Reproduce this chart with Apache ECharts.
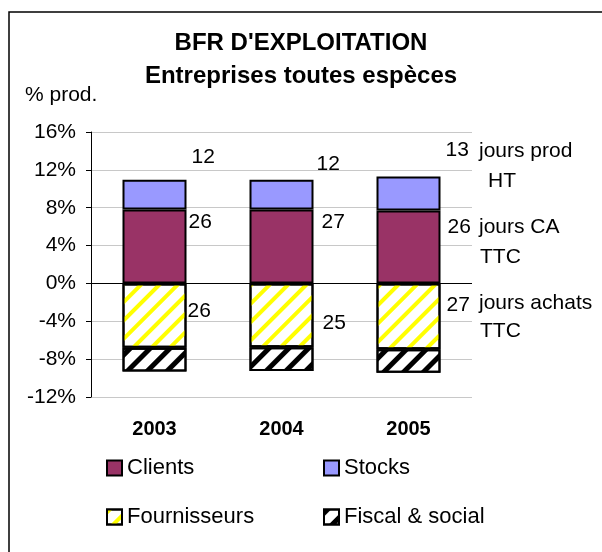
<!DOCTYPE html>
<html>
<head>
<meta charset="utf-8">
<script src="https://cdn.jsdelivr.net/npm/echarts@6/dist/echarts.min.js"></script>
<style>
  html, body { margin: 0; padding: 0; background: #fff; }
  #chart { width: 602px; height: 552px; }
</style>
</head>
<body>
<div id="chart"></div>
<script>
const years = ["2003", "2004", "2005"];
const clients = [7.8, 7.8, 7.7];
const stocks = [3.15, 3.15, 3.6];
const fournisseurs = [-6.8, -6.75, -6.95];
const fiscal = [-2.5, -2.5, -2.5];
const stockDays = [12, 12, 13];
const clientDays = [26, 27, 26];
const supplierDays = [26, 25, 27];
const yMin = -12, yMax = 16, yStep = 4;
const sideNotes = ["jours prod", "HT", "jours CA", "TTC", "jours achats", "TTC"];

const font = "'Liberation Sans', Arial, sans-serif";

// hand-placed label shifts, as in the original sheet
const stockShift = [[0, -37], [-2, -30], [0, -43]];
const clientShift = [[-3, -24], [3, -24], [2, -20]];
const supplierShift = [[-4, -4], [4, 8], [1, -11]];

function withLabels (values, days, shift) {
    return values.map((v, i) => ({
        value: v,
        label: { show: true, formatter: String(days[i]), offset: shift[i] }
    }));
}

const labelStyle = { position: "right", color: "#000", fontSize: 21, fontFamily: font };

const chart = echarts.init(document.getElementById("chart"));
const splitColors = [];
for (let v = yMin; v <= yMax; v += yStep) splitColors.push(v === 0 ? "#000" : "#c8c8c8");

const option = {
    backgroundColor: "#fff",
    animation: false,
    title: {
        text: "BFR D'EXPLOITATION\nEntreprises toutes espèces",
        left: "center",
        top: 27,
        padding: 0,
        textStyle: { fontSize: 24, fontWeight: "bold", fontFamily: font, color: "#000", lineHeight: 33 }
    },
    legend: [
        {
            data: ["Clients", "Fournisseurs"],
            orient: "vertical",
            left: 106, top: 457, padding: 0,
            itemWidth: 15, itemHeight: 15, itemGap: 27,
            icon: "rect",
            itemStyle: { borderColor: "#000", borderWidth: 2 },
            textStyle: { fontSize: 22, fontFamily: font, color: "#000", lineHeight: 22, padding: [0, 0, 0, 0] }
        },
        {
            data: ["Stocks", "Fiscal & social"],
            orient: "vertical",
            left: 323, top: 457, padding: 0,
            itemWidth: 15, itemHeight: 15, itemGap: 27,
            icon: "rect",
            itemStyle: { borderColor: "#000", borderWidth: 2 },
            textStyle: { fontSize: 22, fontFamily: font, color: "#000", lineHeight: 22 }
        }
    ],
    grid: { left: 91, right: 130, top: 132, bottom: 155 },
    xAxis: {
        type: "category",
        data: years,
        axisLine: { show: false, onZero: false },
        axisTick: { show: false },
        axisLabel: { fontSize: 20, fontWeight: "bold", fontFamily: font, color: "#000", margin: 22 }
    },
    yAxis: {
        type: "value",
        min: yMin, max: yMax, interval: yStep,
        axisLine: { show: true, lineStyle: { color: "#000", width: 1 } },
        axisTick: { show: true, length: 5, lineStyle: { color: "#000" } },
        axisLabel: { formatter: "{value}%", fontSize: 21, fontFamily: font, color: "#000", margin: 15 },
        splitLine: { show: true, lineStyle: { color: splitColors, width: 1 } }
    },
    series: [
        {
            name: "Clients", type: "bar", stack: "bfr", barWidth: 64,
            data: withLabels(clients, clientDays, clientShift),
            label: labelStyle,
            itemStyle: { color: "#993366", borderColor: "#000", borderWidth: 2 }
        },
        {
            name: "Stocks", type: "bar", stack: "bfr", barWidth: 64,
            data: withLabels(stocks, stockDays, stockShift),
            label: labelStyle,
            itemStyle: { color: "#9999ff", borderColor: "#000", borderWidth: 2 }
        },
        {
            name: "Fournisseurs", type: "bar", stack: "bfr", barWidth: 64,
            data: withLabels(fournisseurs, supplierDays, supplierShift),
            label: labelStyle,
            itemStyle: {
                color: "#fff", borderColor: "#000", borderWidth: 2,
                decal: { symbol: "rect", color: "#ffff00", dashArrayX: [1, 0], dashArrayY: [4, 8.5], rotation: -Math.PI / 4 }
            }
        },
        {
            name: "Fiscal & social", type: "bar", stack: "bfr", barWidth: 64,
            data: fiscal,
            itemStyle: {
                color: "#fff", borderColor: "#000", borderWidth: 2,
                decal: { symbol: "rect", color: "#000", dashArrayX: [1, 0], dashArrayY: [5, 9], rotation: -Math.PI / 4 }
            }
        }
    ],
    graphic: [
        { type: "rect", shape: { x: 9, y: 12, width: 700, height: 700 }, style: { fill: "none", stroke: "#000", lineWidth: 1.5 }, silent: true },
        { type: "text", left: 25, top: 85, style: { text: "% prod.", fontSize: 21, fontFamily: font, fill: "#000" } },
        { type: "text", x: 479, y: 151, style: { text: sideNotes[0], fontSize: 21, fontFamily: font, fill: "#000", verticalAlign: "middle" } },
        { type: "text", x: 488, y: 181, style: { text: sideNotes[1], fontSize: 21, fontFamily: font, fill: "#000", verticalAlign: "middle" } },
        { type: "text", x: 479, y: 227, style: { text: sideNotes[2], fontSize: 21, fontFamily: font, fill: "#000", verticalAlign: "middle" } },
        { type: "text", x: 480, y: 257, style: { text: sideNotes[3], fontSize: 21, fontFamily: font, fill: "#000", verticalAlign: "middle" } },
        { type: "text", x: 479, y: 303, style: { text: sideNotes[4], fontSize: 21, fontFamily: font, fill: "#000", verticalAlign: "middle" } },
        { type: "text", x: 480, y: 331, style: { text: sideNotes[5], fontSize: 21, fontFamily: font, fill: "#000", verticalAlign: "middle" } }
    ]
};
chart.setOption(option);
</script>
</body>
</html>
